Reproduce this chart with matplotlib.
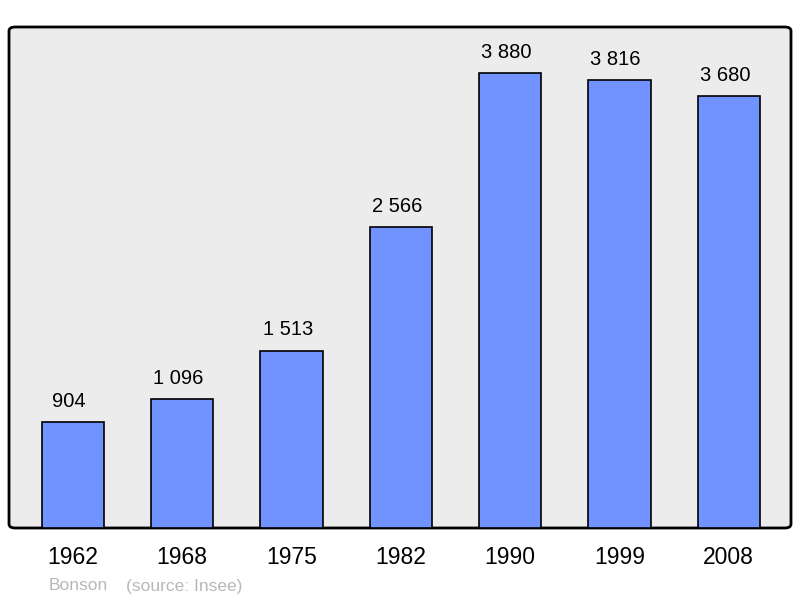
import matplotlib.pyplot as plt
from matplotlib.patches import FancyBboxPatch

plt.rcParams['font.family'] = ['Liberation Sans', 'DejaVu Sans']

# --- data ---
years = ['1962', '1968', '1975', '1982', '1990', '1999', '2008']
population = [904, 1096, 1513, 2566, 3880, 3816, 3680]
labels = ['904', '1 096', '1 513', '2 566', '3 880', '3 816', '3 680']

fig = plt.figure(figsize=(8, 5.98), dpi=100)
ax = fig.add_axes([9 / 800, 1 - 528 / 598, 782 / 800, 501 / 598])

ax.set_facecolor('none')
for s in ax.spines.values():
    s.set_visible(False)

# rounded frame
frame = FancyBboxPatch((0, 0), 1, 1, boxstyle='round,pad=0,rounding_size=0.008',
                       transform=ax.transAxes, facecolor='#ececec',
                       edgecolor='black', linewidth=2, zorder=0, clip_on=False)
ax.add_patch(frame)

x = range(len(years))
ax.bar(x, population, width=0.57, color='#7093ff', edgecolor='black',
       linewidth=1.2, zorder=2)

for i, (v, t) in enumerate(zip(population, labels)):
    ax.text(i - 0.035, v + 95, t, ha='center', va='bottom', fontsize=14.5)

ax.set_xlim(-0.585, 6.57)
ax.set_ylim(0, 4272)
ax.set_xticks(list(x))
ax.set_xticklabels(years, fontsize=16.5)
ax.tick_params(axis='x', length=0, pad=13)
ax.set_yticks([])

fig.text(49 / 800, 1 - 586 / 598, 'Bonson', color='#b8b8b8', fontsize=12.5, va='center')
fig.text(126 / 800, 1 - 586 / 598, '(source: Insee)', color='#b8b8b8', fontsize=12.5, va='center')

fig.savefig('out.png', dpi=100)
